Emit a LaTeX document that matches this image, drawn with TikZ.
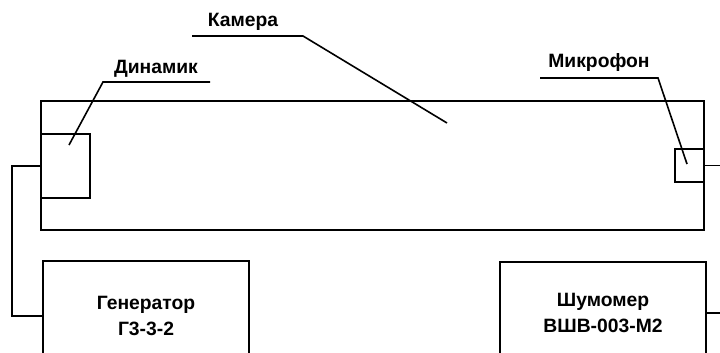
\documentclass[tikz,border=0pt]{standalone}
\usepackage{fontspec}
\setmainfont{Liberation Sans}
\tikzset{
	caja/.style={draw, line width=1.6pt, inner sep=0pt, align=center,
		font=\bfseries\fontsize{19.3}{26}\selectfont},
	etiqueta/.style={inner sep=0pt, font=\bfseries\fontsize{19.3}{22}\selectfont},
	linea/.style={line width=1.6pt}
}
\begin{document}
\begin{tikzpicture}[x=1pt, y=-1pt]
	\useasboundingbox (0, 0) rectangle (720, 353);
	% camara y sus partes
	\node[caja, minimum width=663pt, minimum height=129pt] (camara) at (372.5, 165.5) {};
	\node[caja, minimum width=49pt, minimum height=64pt] (dinamico) at (65.5, 166) {};
	\node[caja, minimum width=29pt, minimum height=33pt] (micro) at (689.5, 165.5) {};
	% aparatos de abajo
	\node[caja, minimum width=206pt, minimum height=110pt] (gen) at (146, 316) {Генератор\\Г3-3-2};
	\node[caja, minimum width=206pt, minimum height=102pt] (ruido) at (603, 313) {Шумомер\\ВШВ-003-М2};
	% cables
	\coordinate (izq) at (12, 0);
	\coordinate (der) at (720, 0);
	\draw[linea] (dinamico.west) -- (dinamico.west -| izq) |- (gen.west);
	\draw[linea] (micro.east) -- (micro.east -| der);
	\draw[linea] (ruido.east) -- (ruido.east -| der);
	% etiquetas con lineas de referencia
	\node[etiqueta] (tkam) at (243, 22) {Камера};
	\coordinate (kamA) at (192, 36); \coordinate (kamB) at (303, 36); \coordinate (kamC) at (447, 123);
	\draw[linea] (kamA) -- (kamB) -- (kamC);
	\node[etiqueta] (tdin) at (156, 69) {Динамик};
	\coordinate (dinA) at (210, 82); \coordinate (dinB) at (103, 82); \coordinate (dinC) at (69, 145);
	\draw[linea] (dinA) -- (dinB) -- (dinC);
	\node[etiqueta] (tmic) at (599, 63) {Микрофон};
	\coordinate (micA) at (540, 78); \coordinate (micB) at (658, 78); \coordinate (micC) at (687, 164);
	\draw[linea] (micA) -- (micB) -- (micC);
\end{tikzpicture}
\end{document}
